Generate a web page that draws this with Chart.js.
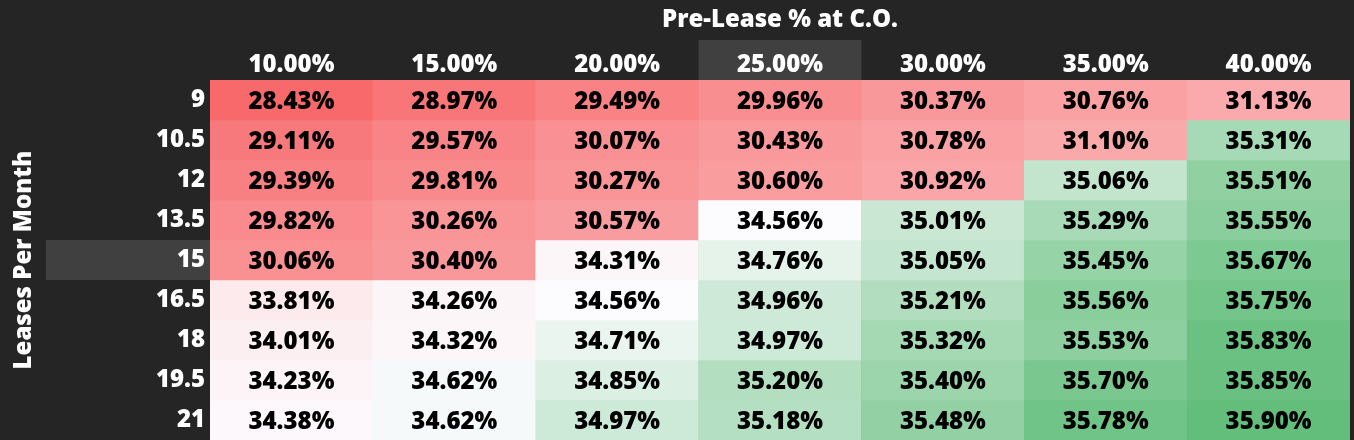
<!DOCTYPE html>
<html>
<head>
<meta charset="utf-8">
<script src="https://cdn.jsdelivr.net/npm/chart.js@4.4.0/dist/chart.umd.min.js"></script>
<style>
  html, body { margin: 0; padding: 0; background: #252525; }
  #wrap { width: 1354px; height: 440px; }
</style>
</head>
<body>
<div id="wrap"><canvas id="heat"></canvas></div>
<script>
// column headers (pre-lease % at C.O.) and row headers (leases per month)
const colLabels = ['10.00%', '15.00%', '20.00%', '25.00%', '30.00%', '35.00%', '40.00%'];
const rowLabels = ['9', '10.5', '12', '13.5', '15', '16.5', '18', '19.5', '21'];

// one array per row, values in %
const row9   = [28.43, 28.97, 29.49, 29.96, 30.37, 30.76, 31.13];
const row105 = [29.11, 29.57, 30.07, 30.43, 30.78, 31.10, 35.31];
const row12  = [29.39, 29.81, 30.27, 30.60, 30.92, 35.06, 35.51];
const row135 = [29.82, 30.26, 30.57, 34.56, 35.01, 35.29, 35.55];
const row15  = [30.06, 30.40, 34.31, 34.76, 35.05, 35.45, 35.67];
const row165 = [33.81, 34.26, 34.56, 34.96, 35.21, 35.56, 35.75];
const row18  = [34.01, 34.32, 34.71, 34.97, 35.32, 35.53, 35.83];
const row195 = [34.23, 34.62, 34.85, 35.20, 35.40, 35.70, 35.85];
const row21  = [34.38, 34.62, 34.97, 35.18, 35.48, 35.78, 35.90];

const rows = [row9, row105, row12, row135, row15, row165, row18, row195, row21];

const highlightCol = 3; // 25.00%
const highlightRow = 4; // 15

// 3-colour scale: min -> median -> max
const allVals = rows.flat().slice().sort((a, b) => a - b);
const vMin = allVals[0];
const vMax = allVals[allVals.length - 1];
const vMid = allVals[Math.floor(allVals.length / 2)];
const cLow = [248, 105, 107];
const cMid = [252, 252, 255];
const cHigh = [99, 190, 123];

function mix(a, b, t) {
  return a.map((v, i) => Math.round(v + (b[i] - v) * t));
}

function cellColor(v) {
  let c;
  if (v <= vMid) c = mix(cLow, cMid, (v - vMin) / (vMid - vMin));
  else c = mix(cMid, cHigh, (v - vMid) / (vMax - vMid));
  return `rgb(${c[0]}, ${c[1]}, ${c[2]})`;
}

const FONT = "'Open Sans', sans-serif";
const SIZE = 24;
const WEIGHT = 800;
Chart.defaults.font.family = FONT;

// background + header highlight boxes
const backdrop = {
  id: 'backdrop',
  beforeDraw(chart) {
    const { ctx, chartArea, scales } = chart;
    ctx.save();
    ctx.fillStyle = '#252525';
    ctx.fillRect(0, 0, chart.width, chart.height);

    ctx.fillStyle = '#404040';
    const colW = scales.x.getPixelForValue(1) - scales.x.getPixelForValue(0);
    const cx = scales.x.getPixelForValue(highlightCol);
    ctx.fillRect(cx - colW / 2, chartArea.top - 40, colW, 40);

    const y0 = scales.y.getPixelForValue(highlightRow);
    const y1 = scales.y.getPixelForValue(highlightRow + 1);
    ctx.fillRect(46, y0, chartArea.left - 46, y1 - y0);
    ctx.restore();
  }
};

// value labels inside cells
const cellText = {
  id: 'cellText',
  afterDatasetsDraw(chart) {
    const ctx = chart.ctx;
    ctx.save();
    ctx.font = `${WEIGHT} ${SIZE}px ${FONT}`;
    ctx.fillStyle = '#000';
    ctx.textAlign = 'center';
    ctx.textBaseline = 'middle';
    chart.data.datasets.forEach((ds, r) => {
      chart.getDatasetMeta(r).data.forEach((bar, c) => {
        ctx.fillText(ds.values[c].toFixed(2) + '%', bar.x, (bar.y + bar.base) / 2 + 2);
      });
    });
    ctx.restore();
  }
};

new Chart(document.getElementById('heat'), {
  type: 'bar',
  data: {
    labels: colLabels,
    datasets: rows.map((vals, r) => ({
      label: rowLabels[r],
      data: vals.map(() => [r, r + 1]),
      values: vals,
      backgroundColor: vals.map(cellColor),
      borderWidth: 0,
      grouped: false,
      barPercentage: 1,
      categoryPercentage: 1
    }))
  },
  options: {
    responsive: true,
    maintainAspectRatio: false,
    animation: false,
    layout: { padding: { left: 0, right: 4, top: 0, bottom: 0 } },
    plugins: {
      legend: { display: false },
      tooltip: { enabled: false }
    },
    scales: {
      x: {
        type: 'category',
        position: 'top',
        offset: true,
        grid: { display: false, drawTicks: false },
        border: { display: false },
        ticks: { color: '#fff', font: { size: SIZE, weight: WEIGHT }, padding: 0, maxRotation: 0 },
        title: {
          display: true,
          text: 'Pre-Lease % at C.O.',
          color: '#fff',
          font: { size: SIZE, weight: WEIGHT },
          padding: { top: 6, bottom: 4 }
        },
        afterFit(scale) { scale.height = 80; }
      },
      y: {
        type: 'linear',
        min: 0,
        max: rows.length,
        reverse: true,
        grid: { display: false, drawTicks: false },
        border: { display: false },
        afterBuildTicks(scale) {
          scale.ticks = rowLabels.map((_, i) => ({ value: i + 0.5 }));
        },
        ticks: {
          color: '#fff',
          font: { size: SIZE, weight: WEIGHT },
          padding: 5,
          callback: (value, index) => rowLabels[index]
        },
        title: {
          display: true,
          text: 'Leases Per Month',
          color: '#fff',
          font: { size: SIZE, weight: WEIGHT },
          padding: { top: 10, bottom: 0 }
        },
        afterFit(scale) {
          scale.width = 210;
          scale.paddingTop = 0;
          scale.paddingBottom = 0;
        }
      }
    }
  },
  plugins: [backdrop, cellText]
});
</script>
</body>
</html>
